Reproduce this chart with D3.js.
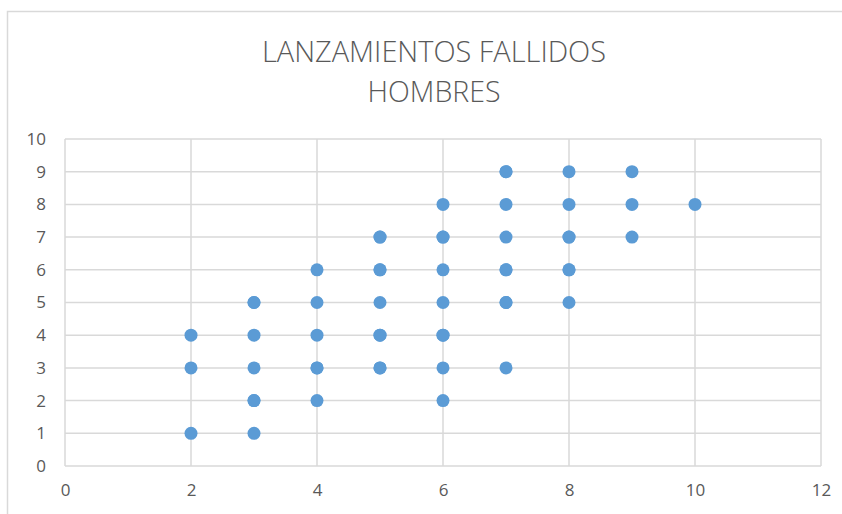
<!DOCTYPE html>
<html>
<head>
<meta charset="utf-8">
<script src="https://cdn.jsdelivr.net/npm/d3@7"></script>
<style>
  html, body { margin: 0; padding: 0; background: #fff; }
  svg { display: block; }
</style>
</head>
<body>
<div id="chart"></div>
<script>
// Chart data (x = column value, y = row value); repeated pairs are overlapping points
const titleLines = ['LANZAMIENTOS FALLIDOS', 'HOMBRES'];
const titleWidths = [344, 133];
const xValues = [
  2, 2, 2,
  3, 3, 3, 3, 3, 3, 3,
  4, 4, 4, 4, 4, 4,
  5, 5, 5, 5, 5, 5, 5, 5, 5,
  6, 6, 6, 6, 6, 6, 6, 6, 6,
  7, 7, 7, 7, 7, 7, 7, 7, 7,
  8, 8, 8, 8, 8, 8, 8,
  9, 9, 9,
  10
];
const yValues = [
  1, 3, 4,
  1, 2, 2, 3, 4, 5, 5,
  2, 3, 3, 4, 5, 6,
  3, 3, 4, 4, 5, 6, 6, 7, 7,
  2, 3, 4, 4, 5, 6, 7, 7, 8,
  3, 5, 5, 6, 6, 7, 8, 9, 9,
  5, 6, 6, 7, 7, 8, 9,
  7, 8, 9,
  8
];
const xTicks = [0, 2, 4, 6, 8, 10, 12];
const yTicks = [0, 1, 2, 3, 4, 5, 6, 7, 8, 9, 10];

const width = 842, height = 514;
const plot = { left: 65, right: 821, top: 139, bottom: 466 };

const svg = d3.select('#chart')
  .append('svg')
  .attr('width', width)
  .attr('height', height);

// Chart frame (only top and left edges are visible in the crop)
svg.append('path')
  .attr('d', `M7.5 ${height} V11.5 H${width}`)
  .attr('fill', 'none')
  .attr('stroke', '#d9d9d9')
  .attr('stroke-width', 1.5);

// Title
svg.append('g')
  .selectAll('text')
  .data(titleLines)
  .enter()
  .append('text')
  .attr('x', 434)
  .attr('y', (d, i) => 62 + i * 40)
  .attr('text-anchor', 'middle')
  .attr('font-family', 'Open Sans, sans-serif')
  .attr('font-weight', 300)
  .attr('font-size', 29)
  .attr('fill', '#595959')
  .attr('textLength', (d, i) => titleWidths[i])
  .attr('lengthAdjust', 'spacingAndGlyphs')
  .text(d => d);

const x = d3.scaleLinear().domain([0, 12]).range([plot.left, plot.right]);
const y = d3.scaleLinear().domain([0, 10]).range([plot.bottom, plot.top]);

// Gridlines
const grid = svg.append('g').attr('stroke', '#d9d9d9').attr('stroke-width', 1.5);
grid.selectAll('line.h')
  .data(yTicks)
  .enter()
  .append('line')
  .attr('x1', plot.left)
  .attr('x2', plot.right)
  .attr('y1', d => y(d))
  .attr('y2', d => y(d));
grid.selectAll('line.v')
  .data(xTicks)
  .enter()
  .append('line')
  .attr('y1', plot.top)
  .attr('y2', plot.bottom)
  .attr('x1', d => x(d))
  .attr('x2', d => x(d));

// Axes (labels only, Excel style)
const yAxis = svg.append('g')
  .attr('transform', `translate(${plot.left - 19},0)`)
  .call(d3.axisLeft(y).tickValues(yTicks).tickSize(0).tickPadding(0));
const xAxis = svg.append('g')
  .attr('transform', `translate(0,${plot.bottom + 18})`)
  .call(d3.axisBottom(x).tickValues(xTicks).tickSize(0).tickPadding(0));

[xAxis, yAxis].forEach(a => {
  a.select('.domain').remove();
  a.selectAll('text')
    .attr('font-family', 'Open Sans, sans-serif')
    .attr('font-size', 17)
    .attr('fill', '#595959');
});

// Points
const points = xValues.map((d, i) => ({ x: d, y: yValues[i] }));
svg.append('g')
  .selectAll('circle')
  .data(points)
  .enter()
  .append('circle')
  .attr('cx', d => x(d.x))
  .attr('cy', d => y(d.y))
  .attr('r', 6.5)
  .attr('fill', '#5b9bd5');
</script>
</body>
</html>
